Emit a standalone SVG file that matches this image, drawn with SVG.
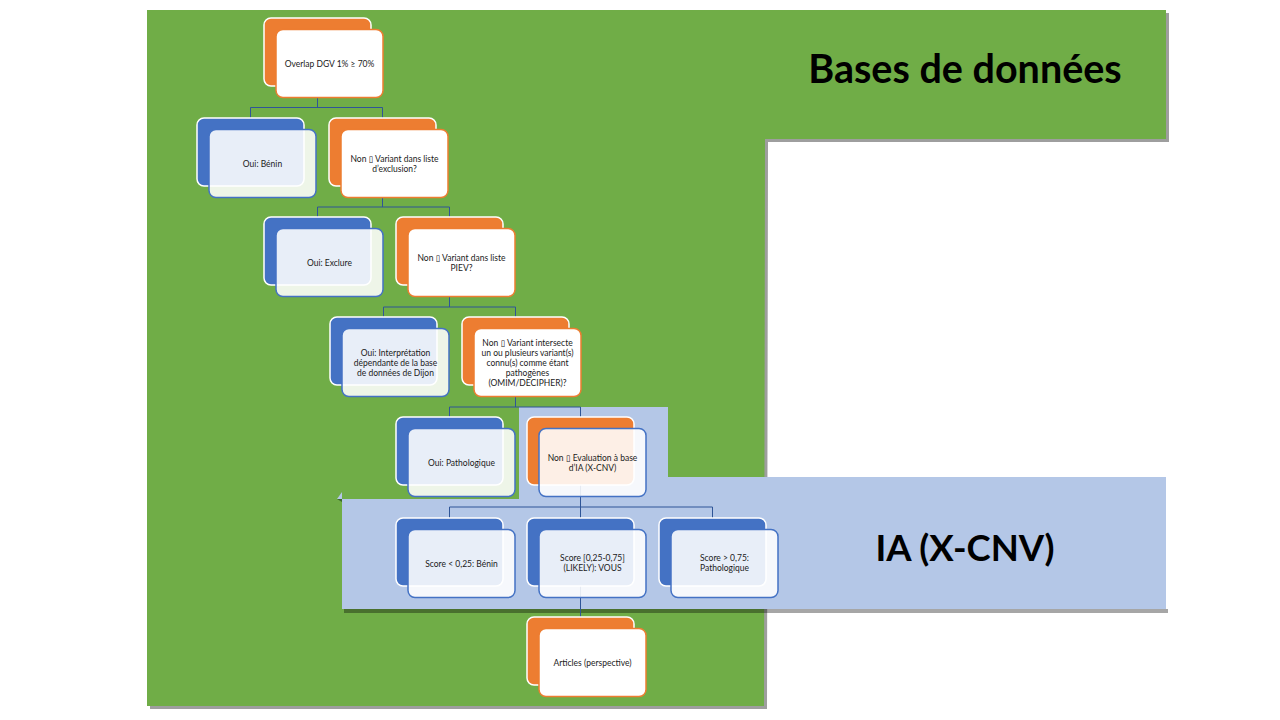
<svg xmlns="http://www.w3.org/2000/svg" width="1280" height="720" viewBox="0 0 1280 720">
<style>
  .bo { fill: #ED7D31; stroke: #FFFFFF; stroke-width: 1.5; }
  .bb { fill: #4472C4; stroke: #FFFFFF; stroke-width: 1.5; }
  .fo { fill: #FFFFFF; stroke: #ED7D31; stroke-width: 1.5; }
  .fb { fill: #FFFFFF; fill-opacity: 0.88; stroke: #4472C4; stroke-width: 1.5; }
  .t { font-family: Lato, "DejaVu Sans", "Liberation Sans", sans-serif; font-size: 8.5px; fill: #1a1a1a; text-anchor: middle; }
  .title { font-family: Lato, "Liberation Sans", sans-serif; font-weight: bold; fill: #000000; text-anchor: middle; }
  .c { fill: none; stroke: #2F5597; stroke-width: 1; }
</style>
<rect x="0" y="0" width="1280" height="720" fill="#FFFFFF"/>
<g id="background">
  <polygon points="150,13 1169,13 1169,142 768,142 767,709 150,709" fill="#9E9E9E"/>
  <polygon points="147,10 1166,10 1166,139 765,139 764,706 147,706" fill="#70AD47"/>
  <rect x="344" y="609" width="824" height="4" fill="#000000" fill-opacity="0.35"/>
  <polygon points="519,407 668,407 668,477 1166,477 1166,609 342,609 342,499 519,499" fill="#B4C7E7"/>
  <polygon points="337,499 342,492 342,499" fill="#B4C7E7"/>
  <polygon points="337,499 342,499 342,502" fill="#3D6B2A"/>
</g>
<g id="titles">
  <text class="title" x="965" y="83" font-size="39.5">Bases de données</text>
  <text class="title" x="965" y="561" font-size="36.5">IA (X-CNV)</text>
</g>
<g id="connectors">
  <path class="c" d="M317.5,86 V107.5 M250.5,107.5 H382.5 M250.5,107.5 V118 M382.5,107.5 V118"/>
  <path class="c" d="M382.5,186 V207 M317.5,207 H449.5 M317.5,207 V217 M449.5,207 V217"/>
  <path class="c" d="M449.5,285 V307 M383.5,307 H515.5 M383.5,307 V317 M515.5,307 V317"/>
  <path class="c" d="M515.5,385 V407 M449.5,407 H580.5 M449.5,407 V417 M580.5,407 V417"/>
  <path class="c" d="M580.5,485 V507 M449.5,507 H712.5 M449.5,507 V518 M580.5,507 V518 M712.5,507 V518"/>
  <path class="c" d="M580.5,586 V617"/>
</g>
<g id="n1">
  <rect class="bo" x="264" y="18" width="107" height="68" rx="7"/>
  <rect class="fo" x="276" y="29.5" width="107" height="68" rx="7"/>
  <text class="t" x="329.5" y="66.5">Overlap DGV 1% ≥ 70%</text>
</g>
<g id="n2">
  <rect class="bb" x="197" y="118" width="107" height="68" rx="7"/>
  <rect class="fb" x="209" y="129.5" width="107" height="68" rx="7"/>
  <text class="t" x="262.5" y="166.5">Oui: Bénin</text>
</g>
<g id="n3">
  <rect class="bo" x="329" y="118" width="107" height="68" rx="7"/>
  <rect class="fo" x="341" y="129.5" width="107" height="68" rx="7"/>
  <text class="t" x="394.5" y="161.5">Non ▯ Variant dans liste</text>
  <text class="t" x="394.5" y="171.5">d’exclusion?</text>
</g>
<g id="n4">
  <rect class="bb" x="264" y="217" width="107" height="68" rx="7"/>
  <rect class="fb" x="276" y="228.5" width="107" height="68" rx="7"/>
  <text class="t" x="329.5" y="265.5">Oui: Exclure</text>
</g>
<g id="n5">
  <rect class="bo" x="396" y="217" width="107" height="68" rx="7"/>
  <rect class="fo" x="408" y="228.5" width="107" height="68" rx="7"/>
  <text class="t" x="461.5" y="260.5">Non ▯ Variant dans liste</text>
  <text class="t" x="461.5" y="270.5">PIEV?</text>
</g>
<g id="n6">
  <rect class="bb" x="330" y="317" width="107" height="68" rx="7"/>
  <rect class="fb" x="342" y="328.5" width="107" height="68" rx="7"/>
  <text class="t" x="395.5" y="356">Oui: Interprétation</text>
  <text class="t" x="395.5" y="366">dépendante de la base</text>
  <text class="t" x="395.5" y="376">de données de Dijon</text>
</g>
<g id="n7">
  <rect class="bo" x="462" y="317" width="107" height="68" rx="7"/>
  <rect class="fo" x="474" y="328.5" width="107" height="68" rx="7"/>
  <text class="t" x="527.5" y="346">Non ▯ Variant intersecte</text>
  <text class="t" x="527.5" y="356">un ou plusieurs variant(s)</text>
  <text class="t" x="527.5" y="366">connu(s) comme étant</text>
  <text class="t" x="527.5" y="376">pathogènes</text>
  <text class="t" x="527.5" y="386">(OMIM/DECIPHER)?</text>
</g>
<g id="n8">
  <rect class="bb" x="396" y="417" width="107" height="68" rx="7"/>
  <rect class="fb" x="408" y="428.5" width="107" height="68" rx="7"/>
  <text class="t" x="461.5" y="465.5">Oui: Pathologique</text>
</g>
<g id="n9">
  <rect class="bo" x="527" y="417" width="107" height="68" rx="7"/>
  <rect class="fb" x="539" y="428.5" width="107" height="68" rx="7"/>
  <text class="t" x="592.5" y="460.5">Non ▯ Evaluation à base</text>
  <text class="t" x="592.5" y="470.5">d’IA (X-CNV)</text>
</g>
<g id="n10">
  <rect class="bb" x="396" y="518" width="107" height="68" rx="7"/>
  <rect class="fb" x="408" y="529.5" width="107" height="68" rx="7"/>
  <text class="t" x="461.5" y="566.5">Score &lt; 0,25: Bénin</text>
</g>
<g id="n11">
  <rect class="bb" x="527" y="518" width="107" height="68" rx="7"/>
  <rect class="fb" x="539" y="529.5" width="107" height="68" rx="7"/>
  <text class="t" x="592.5" y="560.5">Score [0,25-0,75]</text>
  <text class="t" x="592.5" y="570.5">(LIKELY): VOUS</text>
</g>
<g id="n12">
  <rect class="bb" x="659" y="518" width="107" height="68" rx="7"/>
  <rect class="fb" x="671" y="529.5" width="107" height="68" rx="7"/>
  <text class="t" x="724.5" y="560.5">Score &gt; 0,75:</text>
  <text class="t" x="724.5" y="570.5">Pathologique</text>
</g>
<g id="n13">
  <rect class="bo" x="527" y="617" width="107" height="68" rx="7"/>
  <rect class="fo" x="539" y="628.5" width="107" height="68" rx="7"/>
  <text class="t" x="592.5" y="665.5">Articles (perspective)</text>
</g>
</svg>
